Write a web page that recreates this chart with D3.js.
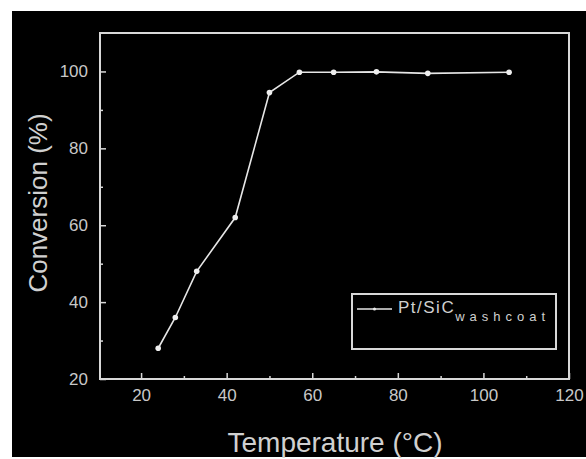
<!DOCTYPE html>
<html><head><meta charset="utf-8">
<script src="https://cdn.jsdelivr.net/npm/d3@7"></script>
<style>body{margin:0;background:#fff}svg{display:block}</style>
</head><body>
<script>
const temperature = [24, 28, 33, 42, 50, 57, 65, 75, 87, 106];
const conversion = [28, 36, 48, 62, 94.5, 99.8, 99.8, 99.9, 99.5, 99.8];
const xTicks = [20, 40, 60, 80, 100, 120];
const yTicks = [20, 40, 60, 80, 100];
const xMinor = [30, 50, 70, 90, 110];
const yMinor = [30, 50, 70, 90];
const seriesName = "Pt/SiC";
const seriesSub = "washcoat";

const W = 586, H = 459;
const svg = d3.select("body").append("svg").attr("width", W).attr("height", H);
svg.append("rect").attr("x", 12).attr("y", 11).attr("width", W - 12).attr("height", 446).attr("fill", "#000");

const L = 100, R = 569, T = 33, B = 379;
const x = d3.scaleLinear().domain([10.4, 120]).range([L, R]);
const y = d3.scaleLinear().domain([20, 110]).range([B, T]);
const fg = "#d8d8d8";
const font = "'Liberation Sans', Arial, sans-serif";

svg.append("g").attr("transform", `translate(0,${B})`)
  .call(d3.axisBottom(x).tickValues(xTicks).tickSizeInner(-6).tickSizeOuter(0).tickPadding(10));
svg.append("g").attr("transform", `translate(${L},0)`)
  .call(d3.axisLeft(y).tickValues(yTicks).tickSizeInner(-6).tickSizeOuter(0).tickPadding(12));
svg.append("g").attr("transform", `translate(0,${B})`)
  .call(d3.axisBottom(x).tickValues(xMinor).tickSizeInner(-3).tickSizeOuter(0).tickFormat(""));
svg.append("g").attr("transform", `translate(${L},0)`)
  .call(d3.axisLeft(y).tickValues(yMinor).tickSizeInner(-3).tickSizeOuter(0).tickFormat(""));
svg.selectAll(".domain").remove();
svg.selectAll(".tick line").attr("stroke", fg).attr("stroke-width", 1.5);
svg.selectAll(".tick text").attr("fill", "#c8c8c8").style("font-family", font).style("font-size", "17px");

svg.append("rect").attr("x", L).attr("y", T).attr("width", R - L).attr("height", B - T)
  .attr("fill", "none").attr("stroke", fg).attr("stroke-width", 2);

const line = d3.line().x((d, i) => x(temperature[i])).y(d => y(d));
svg.append("path").datum(conversion).attr("d", line).attr("fill", "none")
  .attr("stroke", "#e6e6e6").attr("stroke-width", 1.6);
svg.selectAll("circle.pt").data(conversion).join("circle").attr("class", "pt")
  .attr("cx", (d, i) => x(temperature[i])).attr("cy", d => y(d)).attr("r", 2.8).attr("fill", "#eee");

// legend
const lg = svg.append("g");
lg.append("rect").attr("x", 352).attr("y", 294).attr("width", 204).attr("height", 55)
  .attr("fill", "none").attr("stroke", fg).attr("stroke-width", 2);
lg.append("line").attr("x1", 357).attr("x2", 392).attr("y1", 309).attr("y2", 309)
  .attr("stroke", "#e6e6e6").attr("stroke-width", 1.6);
lg.append("circle").attr("cx", 374.5).attr("cy", 309).attr("r", 1.5).attr("fill", "#eee");
const lt = lg.append("text").attr("x", 398).attr("y", 313).attr("fill", "#d0d0d0")
  .style("font-family", font).style("font-size", "17px");
lt.append("tspan").attr("letter-spacing", "1.5px").text(seriesName);
lt.append("tspan").attr("dy", 8).style("font-size", "13px").attr("letter-spacing", "5px").text(seriesSub);

svg.append("text").attr("transform", `translate(47,203) rotate(-90)`).attr("text-anchor", "middle")
  .attr("fill", "#d0d0d0").style("font-family", font).style("font-size", "26px").text("Conversion (%)");
svg.append("text").attr("x", 335).attr("y", 452).attr("text-anchor", "middle")
  .attr("fill", "#d0d0d0").style("font-family", font).style("font-size", "28px").text("Temperature (°C)");
</script>
</body></html>
